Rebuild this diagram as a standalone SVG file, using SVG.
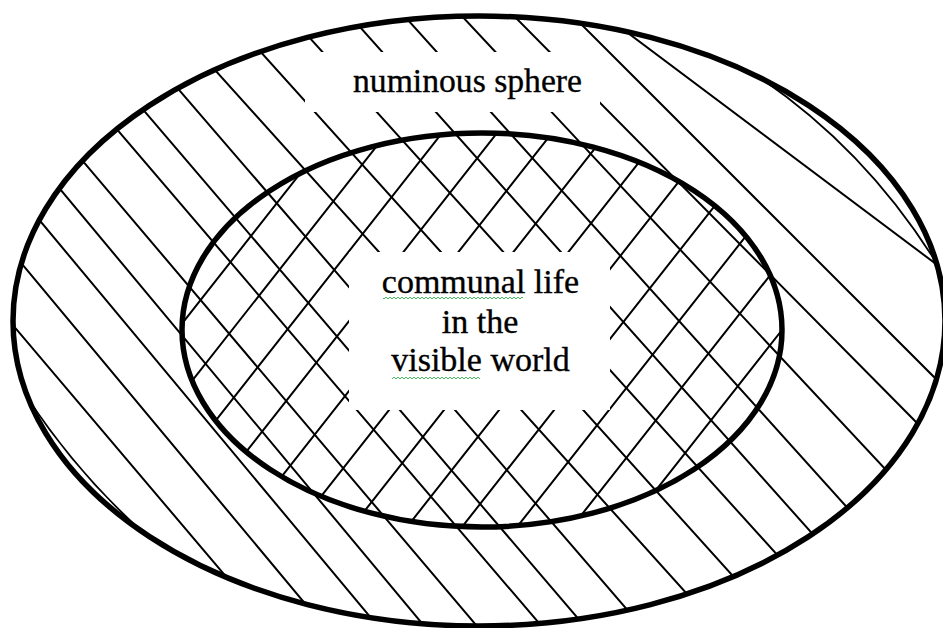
<svg xmlns="http://www.w3.org/2000/svg" width="943" height="628" viewBox="0 0 943 628">
<defs>
<style>
.hatch{stroke:#000;stroke-width:2;fill:none}
.thick{fill:none;stroke:#000;stroke-width:5.5}
.thin{fill:none;stroke:#000;stroke-width:1.8}
.label{font-family:"Liberation Serif","Times New Roman",serif;font-size:34px;fill:#000;stroke:#000;stroke-width:0.35}
.box{fill:#fff}
</style>
<clipPath id="clipOuter"><path d="M28.9 400A466 305 0 0 1 760 77.7Q865.75 149.65 936.5 263A466 305 0 0 1 143 532.3Q78.05 473.85 28.9 400Z"/></clipPath>
<clipPath id="clipInner"><ellipse cx="482" cy="330" rx="300" ry="197"/></clipPath>
<pattern id="squiggle" width="4" height="4" patternUnits="userSpaceOnUse"><path d="M0 3 L2 1 L4 3" fill="none" stroke="#2fb24a" stroke-width="0.9"/></pattern>
</defs>
<rect width="943" height="628" fill="#fff"/>

<g id="numinous-sphere">
  <g clip-path="url(#clipOuter)">
    <path class="hatch" d="M-279.6 -20L288.2 650M-214.7 -20L343.7 650M-160.7 -20L397.7 650M-114.2 -20L444.2 650M-70.6 -20L497.2 650M-10.7 -20L562 650M32.3 -20L605 650M84.3 -20L661.9 650M133.9 -20L737.5 650M195.9 -20L799.5 650M257.4 -20L863.2 650M318 -20L916.2 650M371.9 -20L975.5 650M428.2 -20L1054.3 650M478.4 -20L1141.8 650M537 -20L1207 650M557.3 -20L1450.7 650"/>
  </g>
  <path class="thin" d="M760 77.7Q865.75 149.65 936.5 263M143 532.3Q78.05 473.85 28.9 400"/>
  <rect class="box" x="305" y="52" width="295" height="60"/>
  <ellipse class="thick" cx="479" cy="321" rx="466" ry="305"/>
  <text class="label" x="467.5" y="92" text-anchor="middle" textLength="229" lengthAdjust="spacingAndGlyphs">numinous sphere</text>
</g>

<g id="communal-life">
  <g clip-path="url(#clipInner)">
    <path class="hatch" d="M193 100l-362 460M248 100l-362 460M303 100l-362 460M358 100l-362 460M413 100l-362 460M468 100l-362 460M523 100l-362 460M578 100l-362 460M633 100l-362 460M688 100l-362 460M743 100l-362 460M798 100l-362 460M853 100l-362 460M908 100l-362 460M963 100l-362 460M1018 100l-362 460M1073 100l-362 460M1128 100l-362 460"/>
  </g>
  <rect class="box" x="349" y="252" width="261" height="158"/>
  <ellipse class="thick" cx="482" cy="330" rx="300" ry="197"/>
  <text class="label" x="480.5" y="293" text-anchor="middle">communal life</text>
  <text class="label" x="480" y="333" text-anchor="middle">in the</text>
  <text class="label" x="480.5" y="371" text-anchor="middle">visible world</text>
  <rect x="383" y="296" width="140" height="4" fill="url(#squiggle)"/>
  <rect x="392" y="375" width="88" height="4" fill="url(#squiggle)"/>
</g>

<g id="connectors"/>
</svg>
